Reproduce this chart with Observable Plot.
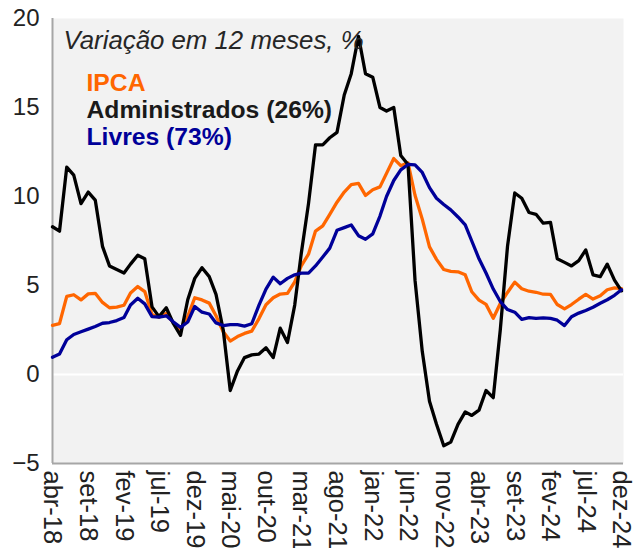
<!DOCTYPE html>
<html><head><meta charset="utf-8">
<script src="https://cdn.jsdelivr.net/npm/d3@7"></script>
<script src="https://cdn.jsdelivr.net/npm/@observablehq/plot@0.6"></script>
<style>
body{margin:0;background:#fff;}
#chart svg{display:block;}
</style></head><body><div id="chart"></div>
<script>
// Variação em 12 meses, % — abr/2018 a dez/2024 (mensal)
const ipca = [2.76,2.86,4.39,4.48,4.19,4.53,4.56,4.05,3.75,
  3.78,3.89,4.58,4.94,4.66,3.37,3.22,3.43,2.89,2.54,3.27,4.31,
  4.19,4.01,3.30,2.40,1.88,2.13,2.31,2.44,3.14,3.92,4.31,4.52,
  4.56,5.20,6.10,6.76,8.06,8.35,8.99,9.68,10.25,10.67,10.74,10.06,
  10.38,10.54,11.30,12.13,11.73,11.89,10.07,8.73,7.17,6.47,5.90,5.79,
  5.77,5.60,4.65,4.18,3.94,3.16,3.99,4.61,5.19,4.82,4.68,4.62,
  4.51,4.50,3.93,3.69,3.93,4.23,4.50,4.24,4.42,4.76,4.87,4.83];
const administrados = [8.3,8.05,11.65,11.2,9.6,10.25,9.8,7.2,6.1,5.9,
  5.7,6.2,6.7,6.5,3.8,3.25,3.75,2.85,2.2,4.2,
  5.4,6.0,5.5,4.5,2.5,-0.9,0.2,0.95,1.1,1.15,
  1.5,0.95,2.6,1.8,3.9,6.8,9.6,12.9,12.9,13.3,
  13.6,15.7,16.9,19.0,16.9,16.7,15.0,14.8,15.0,12.3,
  11.8,5.3,1.3,-1.5,-2.8,-4.0,-3.8,-2.8,-2.1,-2.3,
  -2.0,-0.9,-1.3,2.5,7.2,10.2,9.9,9.1,9.0,8.5,
  8.55,6.5,6.3,6.1,6.4,7.0,5.6,5.5,6.2,5.3,4.7];
const livres = [0.97,1.15,1.95,2.25,2.4,2.55,2.7,2.88,2.92,3.03,
  3.2,3.9,4.28,3.97,3.25,3.22,3.3,2.95,2.65,2.95,
  3.82,3.5,3.4,2.9,2.75,2.8,2.8,2.72,2.85,3.9,
  4.8,5.47,5.1,5.4,5.6,5.7,5.7,6.1,6.6,7.1,
  8.1,8.25,8.4,7.8,7.6,7.9,8.9,10.0,10.9,11.5,
  11.8,11.78,11.35,10.5,9.9,9.55,9.25,8.85,8.4,7.5,
  6.5,5.7,4.8,4.1,3.65,3.5,3.1,3.2,3.15,3.18,
  3.15,3.05,2.75,3.25,3.45,3.6,3.78,4.0,4.2,4.45,4.76];
const tickLabels = ["abr-18","set-18","fev-19","jul-19","dez-19","mai-20","out-20","mar-21",
  "ago-21","jan-22","jun-22","nov-22","abr-23","set-23","fev-24","jul-24","dez-24"];
const yTicks = [-5,0,5,10,15,20];
const seriesNames = ["IPCA","Administrados (26%)","Livres (73%)"];
const seriesColors = ["#ff6600","#000000","#000099"];
const title = "Variação em 12 meses, %";

const months = d3.utcMonth.range(new Date(Date.UTC(2018,3,1)), new Date(Date.UTC(2025,0,1)));
const rows = [];
[ipca, administrados, livres].forEach((arr, k) =>
  arr.forEach((v, i) => rows.push({date: months[i], value: v, series: seriesNames[k]})));
const tickDates = tickLabels.map((_, j) => months[j * 5]);
const labelOf = new Map(tickDates.map((d, j) => [+d, tickLabels[j]]));

const font = "'Liberation Sans', Arial, Helvetica, sans-serif";
const chart = Plot.plot({
  width: 635, height: 548,
  marginLeft: 52, marginRight: 12, marginTop: 18, marginBottom: 85,
  insetRight: 2,
  style: {fontFamily: font, fontSize: "24px", background: "#fff", color: "#222"},
  x: {type: "utc", domain: [months[0], months[months.length - 1]]},
  y: {domain: [-5, 20]},
  color: {domain: seriesNames, range: seriesColors},
  marks: [
    Plot.frame({fill: "#f2f2f2", stroke: null}),
    Plot.ruleY([0], {stroke: "#fff", strokeWidth: 2}),
    Plot.ruleY([-5], {stroke: "#a6a6a6", strokeWidth: 2}),
    Plot.ruleX([months[0]], {stroke: "#a6a6a6", strokeWidth: 2}),
    Plot.axisY({ticks: yTicks, tickSize: 0, tickPadding: 13, fontSize: 24, fill: "#222",
      tickFormat: d => d < 0 ? "\u2212" + Math.abs(d) : String(d), label: null}),
    Plot.axisX({ticks: tickDates, tickSize: 0, tickPadding: 7, tickRotate: 90, fontSize: 25.5, fill: "#222",
      tickFormat: d => labelOf.get(+d), label: null}),
    Plot.lineY(rows, {x: "date", y: "value", stroke: "series", z: "series", strokeWidth: 3.3, strokeLinejoin: "round"}),
    Plot.text([title], {frameAnchor: "top-left", dx: 11, dy: 22, textAnchor: "start", lineAnchor: "middle",
      fontStyle: "italic", fontSize: 25.8, fill: "#262626"}),
    Plot.text([seriesNames[0]], {frameAnchor: "top-left", dx: 34, dy: 65, textAnchor: "start", lineAnchor: "middle",
      fontWeight: "bold", fontSize: 24.7, fill: seriesColors[0]}),
    Plot.text([seriesNames[1]], {frameAnchor: "top-left", dx: 34, dy: 92, textAnchor: "start", lineAnchor: "middle",
      fontWeight: "bold", fontSize: 24.7, fill: "#1a1a1a"}),
    Plot.text([seriesNames[2]], {frameAnchor: "top-left", dx: 34, dy: 119, textAnchor: "start", lineAnchor: "middle",
      fontWeight: "bold", fontSize: 24.7, fill: seriesColors[2]})
  ]
});
document.getElementById("chart").appendChild(chart);
</script></body></html>
